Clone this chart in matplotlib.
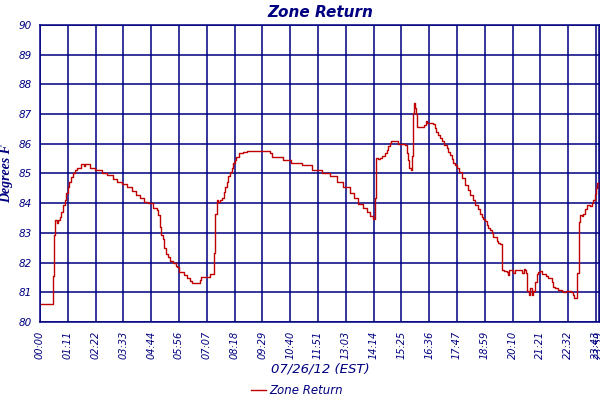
import numpy as np
import matplotlib
matplotlib.use('Agg')
import matplotlib.pyplot as plt

# Colours
NAVY = '#000080'
RED = '#c00000'

# Zone return temperature, minutes after midnight vs degrees F
minutes = [
    0, 31, 32.4, 34, 36, 39, 44, 47, 51, 55, 60, 63, 66.6, 71, 75, 79, 84, 90, 96, 105,
    112, 114, 119, 128, 141, 158, 172, 188, 198, 209, 222, 235, 246, 256, 266, 277,
    290, 300, 303, 307, 311, 315, 318, 323, 328, 333, 340, 347, 350, 355, 364, 370,
    377, 383, 390, 400, 409, 412, 425, 435, 445, 446, 449, 452, 456, 460, 465, 470,
    474, 478, 482, 487, 491, 495, 499, 503, 510, 519, 529, 555, 589, 593, 621, 644,
    670, 696, 721, 743, 760, 777, 794, 805, 815, 826, 837, 845, 852, 857, 857.5, 860,
    861, 866, 870, 875, 883, 888, 892, 896, 900, 913, 918, 930, 935, 939, 943, 946,
    949, 952, 954, 956, 958.6, 961, 963, 966, 977, 983, 988, 992, 1007, 1011, 1015,
    1020, 1024, 1029, 1035, 1041, 1046, 1050, 1054, 1058, 1062, 1067, 1072, 1080,
    1088, 1095, 1101, 1108, 1115, 1121, 1127, 1131, 1135, 1140, 1144, 1148, 1152,
    1157, 1161, 1167, 1169, 1174, 1178, 1182, 1184, 1188, 1195, 1199, 1201, 1212,
    1216, 1229, 1233, 1239, 1242, 1245, 1246.3, 1253, 1256, 1259, 1262, 1268, 1272,
    1276, 1280, 1285, 1297, 1301, 1310, 1314, 1318, 1327, 1336, 1340, 1348, 1357,
    1361, 1364, 1368, 1374, 1376, 1379.5, 1383, 1387, 1391, 1396, 1400, 1409, 1413,
    1417, 1420, 1424, 1427, 1431, 1434,
]
temps = [
    80.62, 80.62, 80.97, 81.55, 82.93, 83.43, 83.32, 83.43, 83.55, 83.70, 83.94, 84.10,
    84.33, 84.56, 84.72, 84.87, 85.00, 85.12, 85.20, 85.32,
    85.25, 85.32, 85.32, 85.20, 85.12, 85.00, 84.94, 84.80, 84.72, 84.65, 84.53, 84.40,
    84.28, 84.16, 84.03, 84.00, 83.83, 83.77, 83.60, 83.20, 82.93, 82.80, 82.48, 82.30,
    82.20, 82.06, 82.00, 81.90, 81.86, 81.69, 81.69, 81.58, 81.47, 81.39, 81.32, 81.32,
    81.41, 81.50, 81.52, 81.62, 81.62, 82.31, 83.64, 84.10, 84.05, 84.12, 84.17, 84.39,
    84.56, 84.72, 84.90, 85.06, 85.17, 85.34, 85.45, 85.57, 85.68, 85.73, 85.77, 85.75,
    85.68, 85.57, 85.45, 85.36, 85.28, 85.12, 85.00, 84.90, 84.72, 84.53, 84.33, 84.19,
    83.97, 83.83, 83.71, 83.56, 83.46, 83.46, 84.16, 85.23, 85.53, 85.50, 85.53, 85.60,
    85.70, 85.80, 85.93, 86.02, 86.10, 86.10, 86.00, 86.00, 85.96, 85.70, 85.45, 85.20,
    85.12, 85.60, 86.07, 87.03, 87.36, 87.20, 87.00, 86.58, 86.58, 86.62, 86.78, 86.70,
    86.68, 86.52, 86.40, 86.30, 86.20, 86.10, 85.96, 85.85, 85.73, 85.62, 85.50, 85.36,
    85.27, 85.20, 85.06, 84.84, 84.60, 84.43, 84.28, 84.12, 83.95, 83.80, 83.64, 83.55,
    83.46, 83.40, 83.27, 83.17, 83.10, 83.00, 82.87, 82.87, 82.74, 82.67, 82.62, 82.48,
    81.75, 81.73, 81.70, 81.58, 81.75, 81.64, 81.75, 81.75, 81.64, 81.80, 81.75, 81.64,
    81.05, 80.91, 81.13, 80.91, 81.05, 81.36, 81.60, 81.68, 81.73, 81.62, 81.55, 81.48,
    81.36, 81.17, 81.13, 81.07, 81.05, 81.02, 81.05, 81.05, 81.02, 80.91, 80.80, 80.84,
    81.64, 83.38, 83.60, 83.56, 83.64, 83.80, 83.94, 83.90, 84.00, 84.10, 84.30, 84.50,
    84.67, 84.50, 84.50,
]

# Axis tick labels
x_tick_labels = ['00:00', '01:11', '02:22', '03:33', '04:44', '05:56', '07:07', '08:18',
                 '09:29', '10:40', '11:51', '13:03', '14:14', '15:25', '16:36', '17:47',
                 '18:59', '20:10', '21:21', '22:32', '23:43', '23:59']
y_ticks = [80, 81, 82, 83, 84, 85, 86, 87, 88, 89, 90]

fig = plt.figure(figsize=(6, 4), dpi=100)
ax = fig.add_axes([40 / 600, 78 / 400, 560 / 600, 297 / 400])

ax.plot(minutes, temps, color=RED, linewidth=1.0, drawstyle='steps-post', label='Zone Return')

# tick positions: every 71.18 min, last one at end of day
x_ticks = [i * 71.18 for i in range(21)] + [1432]
ax.set_xticks(x_ticks)
ax.set_xticklabels(x_tick_labels, rotation=90, fontsize=7, style='italic', color=NAVY)
ax.set_yticks(y_ticks)
ax.set_yticklabels([str(v) for v in y_ticks], fontsize=7.5, style='italic', color=NAVY)
ax.tick_params(length=0, pad=6)

ax.set_xlim(0, 1434)
ax.set_ylim(80, 90)
ax.grid(True, color=NAVY, linewidth=1.1)
for s in ax.spines.values():
    s.set_color(NAVY)
    s.set_linewidth(1.1)
ax.set_axisbelow(True)

ax.set_title('Zone Return', fontsize=11, fontweight='bold', style='italic', color=NAVY, pad=6)
ax.set_xlabel('07/26/12 (EST)', fontsize=9.5, style='italic', color=NAVY, labelpad=3)
ax.set_ylabel('Degrees F', fontsize=10, fontweight='bold', style='italic', color=NAVY,
              family='Liberation Serif', labelpad=4)

leg = fig.legend(loc='lower center', bbox_to_anchor=(0.495, -0.02), frameon=False,
                 fontsize=8.5, handlelength=1.2, handletextpad=0.3)
for t in leg.get_texts():
    t.set_color(NAVY)
    t.set_style('italic')

plt.savefig('out.png', dpi=100)
plt.close()
